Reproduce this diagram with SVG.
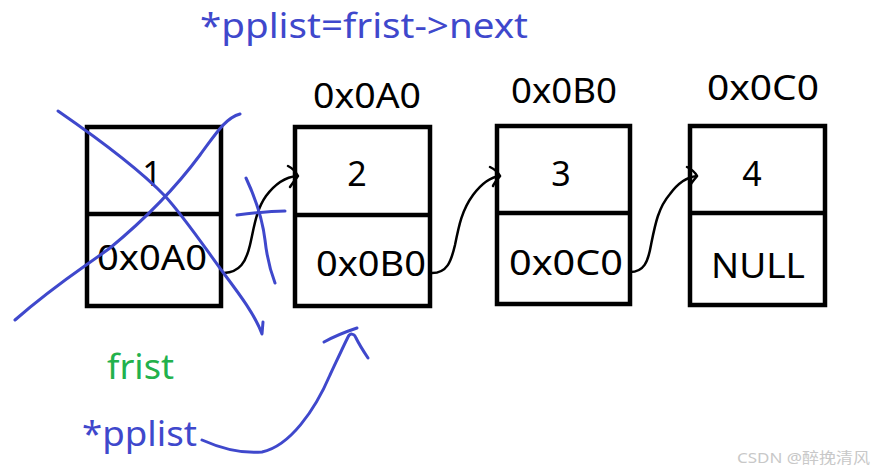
<svg xmlns="http://www.w3.org/2000/svg" width="878" height="472" viewBox="0 0 878 472">
<style>
.box{fill:none;stroke:#000;stroke-width:4.5}
.div{stroke:#000;stroke-width:4.5}
.t{font-family:"Noto Sans","Open Sans","DejaVu Sans",sans-serif;fill:#000;font-size:34px}
.c{text-anchor:middle}
.blue{fill:#3f48cc}
.green{fill:#22b14c}
.bs{fill:none;stroke:#3f48cc;stroke-width:3;stroke-linecap:round;stroke-linejoin:round}
.ks{fill:none;stroke:#000;stroke-width:2.5;stroke-linecap:round;stroke-linejoin:round}
.wm{font-family:"Noto Sans","Noto Sans CJK SC",sans-serif;font-size:15px;fill:#c8c8c8}
</style>
<rect width="878" height="472" fill="#fff"/>
<text class="t blue" x="200" y="38" font-size="37" textLength="328" lengthAdjust="spacingAndGlyphs">*pplist=frist-&gt;next</text>
<g id="node1">
<rect class="box" x="87" y="127" width="134" height="179"/>
<line class="div" x1="85" y1="214" x2="223" y2="214"/>
<text class="t c" x="152" y="186">1</text>
<text class="t" x="97" y="270" textLength="110" lengthAdjust="spacingAndGlyphs">0x0A0</text>
</g>
<g id="node2">
<rect class="box" x="295" y="127" width="135" height="179"/>
<line class="div" x1="293" y1="215" x2="432" y2="215"/>
<text class="t c" x="357" y="186">2</text>
<text class="t" x="316" y="276" textLength="110" lengthAdjust="spacingAndGlyphs">0x0B0</text>
<text class="t" x="313" y="108" textLength="108" lengthAdjust="spacingAndGlyphs">0x0A0</text>
</g>
<g id="node3">
<rect class="box" x="497" y="126" width="133" height="178"/>
<line class="div" x1="495" y1="213" x2="632" y2="213"/>
<text class="t c" x="561" y="186">3</text>
<text class="t" x="509" y="275" textLength="114" lengthAdjust="spacingAndGlyphs">0x0C0</text>
<text class="t" x="511" y="103" textLength="106" lengthAdjust="spacingAndGlyphs">0x0B0</text>
</g>
<g id="node4">
<rect class="box" x="690" y="126" width="135" height="179"/>
<line class="div" x1="688" y1="213" x2="827" y2="213"/>
<text class="t c" x="752" y="186">4</text>
<text class="t" x="711" y="278" textLength="94" lengthAdjust="spacingAndGlyphs">NULL</text>
<text class="t" x="707" y="100" textLength="112" lengthAdjust="spacingAndGlyphs">0x0C0</text>
</g>
<g id="connectors">
<path class="ks" d="M224,273 C240,272 246,262 250,245 C254,228 256,210 266,196 C275,184 285,177 297,176"/>
<path class="ks" d="M288,166 C292,168 296,172 298,176 C295,180 292,184 290,187"/>
<path class="ks" d="M432,273 C447,273 451,262 455,245 C459,225 462,210 473,195 C482,183 490,177 500,176"/>
<path class="ks" d="M490,167 C494,169 498,172 500,176 C497,180 494,183 493,186"/>
<path class="ks" d="M630,272 C644,272 648,262 651,245 C655,225 658,208 670,194 C678,183 687,177 697,176"/>
<path class="ks" d="M687,167 C691,169 695,172 697,176 C694,180 691,183 690,186"/>
</g>
<g id="marks">
<path class="bs" d="M58,111 C100,140 140,170 165,196 C185,218 205,248 225,275 C240,295 255,315 262,334 L263,322"/>
<path class="bs" d="M240,114 C225,118 215,135 200,155 C180,182 150,215 110,248 C80,270 55,285 15,320"/>
<path class="bs" d="M246,178 C254,195 262,215 265,240 C267,258 270,270 275,283"/>
<path class="bs" d="M237,215 C253,213 270,211 285,211"/>
<path class="bs" d="M202,440 C220,448 240,454 262,452 C290,446 315,410 330,375 C338,358 344,345 348,337 C350,333 354,333 356,338 C360,346 364,352 368,358"/>
<path class="bs" d="M324,342 C333,337 345,332 357,328"/>
</g>
<text class="t green" x="107" y="379" font-size="35" textLength="67" lengthAdjust="spacingAndGlyphs">frist</text>
<text class="t blue" x="82" y="446" font-size="37" textLength="115" lengthAdjust="spacingAndGlyphs">*pplist</text>
<text class="wm" x="737" y="463" textLength="133" lengthAdjust="spacingAndGlyphs">CSDN @醉挽清风</text>
</svg>
